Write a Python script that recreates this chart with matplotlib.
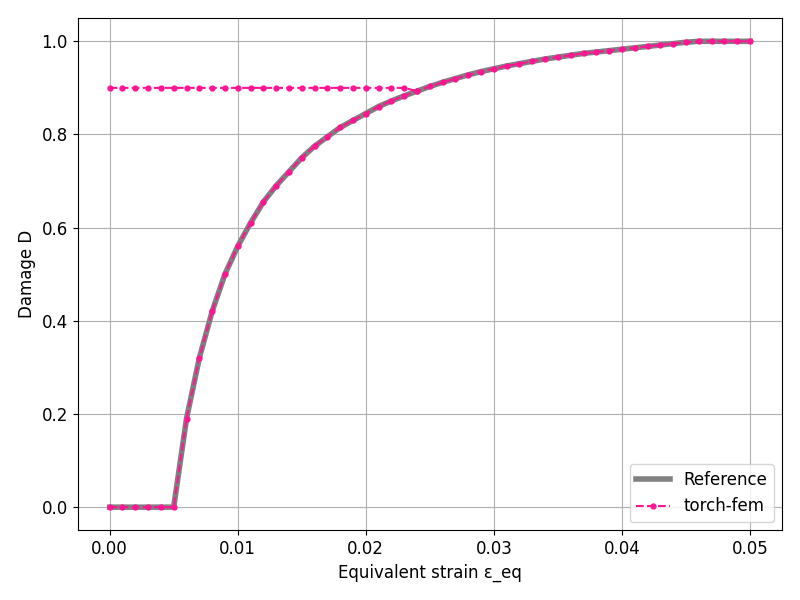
import matplotlib
matplotlib.use("Agg")
import matplotlib.pyplot as plt

plt.rcParams["font.size"] = 12

strain = [i * 0.001 for i in range(51)]
damage = [0, 0, 0, 0, 0, 0.0, 0.19, 0.32, 0.42, 0.50, 0.56, 0.61, 0.655, 0.69, 0.72, 0.75,
          0.775, 0.795, 0.815, 0.83, 0.845, 0.86, 0.872, 0.883, 0.893, 0.903, 0.912, 0.92,
          0.928, 0.935, 0.941, 0.947, 0.952, 0.957, 0.962, 0.966, 0.970, 0.974, 0.977, 0.980,
          0.983, 0.986, 0.989, 0.992, 0.995, 0.998, 1.0, 1.0, 1.0, 1.0, 1.0]
flat_strain = [i * 0.001 for i in range(25)]
flat_damage = [0.9] * 24 + [0.893]

fig, ax = plt.subplots(figsize=(8, 6), dpi=100)
ax.plot(strain, damage, color="gray", lw=4, label="Reference", zorder=2)
ax.plot(strain, damage, "--", color="#ff1493", marker=".", ms=7, lw=1.5, label="torch-fem", zorder=3)
ax.plot(flat_strain, flat_damage, "--", color="#ff1493", marker=".", ms=7, lw=1.5, zorder=3)
ax.set_xlabel("Equivalent strain ε_eq")
ax.set_ylabel("Damage D")
ax.grid(True)
ax.legend(loc="lower right")
fig.tight_layout()
fig.savefig("out.png")
